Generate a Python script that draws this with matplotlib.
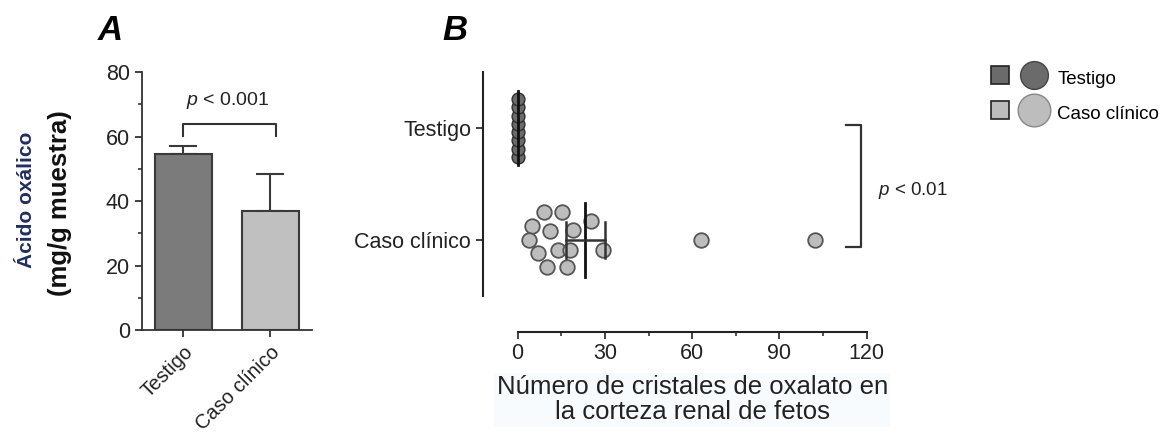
import matplotlib
matplotlib.use('Agg')
import matplotlib.pyplot as plt
from matplotlib.lines import Line2D
from matplotlib.legend_handler import HandlerTuple
from matplotlib.ticker import MultipleLocator

plt.rcParams['font.family'] = ['Liberation Sans', 'DejaVu Sans']
plt.rcParams['mathtext.fontset'] = 'custom'
plt.rcParams['mathtext.it'] = 'Liberation Sans:italic'
plt.rcParams['mathtext.rm'] = 'Liberation Sans'

# Panel A data
groups = ['Testigo', 'Caso clínico']
acid_mean = [54.5, 37.0]
acid_err = [2.5, 11.4]

# Panel B data (crystal counts)
testigo_counts = [0, 0, 0, 0, 0, 0, 0, 0]
testigo_jitter = [-0.26, -0.185, -0.11, -0.037, 0.037, 0.11, 0.185, 0.26]
caso_counts = [9.1, 15.1, 5.0, 11.1, 19.1, 25.2, 3.9, 14.0, 18.0, 29.2, 7.1, 10.2, 17.0, 63.2, 102.2]
caso_jitter = [0.247, 0.247, 0.122, 0.083, 0.09, 0.173, 0.0, -0.087, -0.087, -0.087, -0.12, -0.245, -0.245, 0.0, 0.0]
testigo_mean, testigo_sem = 0.0, 0.0
caso_mean, caso_sem = 23.3, 6.6

dark = '#7b7b7b'
light = '#c0c0c0'
edge = '#3a3a3a'
tick_fs = 15.5

fig = plt.figure(figsize=(11.72, 4.32), dpi=100)

# ---------- panel A ----------
axA = fig.add_axes([0.1209, 0.2361, 0.1453, 0.5972])
xpos = [0, 1]
axA.bar(xpos, acid_mean, width=0.654, color=[dark, light], edgecolor=edge, linewidth=1.5, zorder=2)
axA.errorbar(xpos, acid_mean, yerr=[[0, 0], acid_err], fmt='none', ecolor=edge,
             elinewidth=1.5, capsize=10, capthick=1.5, zorder=1)
axA.set_xlim(-0.48, 1.48)
axA.set_ylim(0, 80)
axA.set_yticks([0, 20, 40, 60, 80])
axA.yaxis.set_minor_locator(MultipleLocator(10))
axA.set_xticks(xpos)
axA.set_xticklabels(groups, rotation=45, ha='right', rotation_mode='anchor')
for s in ['top', 'right']:
    axA.spines[s].set_visible(False)
for s in ['left', 'bottom']:
    axA.spines[s].set_linewidth(1.3)
    axA.spines[s].set_color('#333333')
axA.tick_params(axis='both', labelsize=tick_fs, width=1.3, length=5, color='#333333', labelcolor='#222222')
axA.tick_params(axis='y', which='minor', length=3, width=1.2, color='#333333')
axA.tick_params(axis='x', labelsize=14.5, pad=4)

# bracket A
axA.plot([0, 0, 1.07, 1.07], [60.2, 63.9, 63.9, 60.2], color='#333333', lw=1.5, clip_on=False)
axA.text(0.515, 71.3, '$p$ < 0.001', ha='center', va='center', fontsize=14, color='#222222')

fig.text(27 / 1172, 1 - 200 / 432, 'Ácido oxálico', rotation=90, ha='center', va='center',
         fontsize=15, fontweight='bold', color='#1f2d66')
fig.text(60 / 1172, 1 - 203 / 432, '(mg/g muestra)', rotation=90, ha='center', va='center',
         fontsize=18.5, fontweight='bold', color='#111111')
fig.text(110 / 1172, 1 - 30 / 432, 'A', ha='center', va='center', fontsize=25,
         fontweight='bold', fontstyle='italic')

# ---------- panel B ----------
axB = fig.add_axes([0.4417, 0.3148, 0.2978, 0.5185])
axB.scatter(testigo_counts, [1 + j for j in testigo_jitter], s=85, color='#6b6b6b',
            edgecolor='#2e2e2e', linewidth=1.0, zorder=3, clip_on=False)
axB.scatter(caso_counts, [0 + j for j in caso_jitter], s=110, color='#bdbdbd',
            edgecolor='#555555', linewidth=1.3, zorder=3, clip_on=False)
# mean + SEM
for yc, m, e in [(1, testigo_mean, testigo_sem), (0, caso_mean, caso_sem)]:
    axB.plot([m, m], [yc - 0.33, yc + 0.33], color='#111111', lw=2, zorder=4, clip_on=False)
    if e > 0:
        axB.plot([m - e, m + e], [yc, yc], color='#333333', lw=1.8, zorder=4)
        for xe in (m - e, m + e):
            axB.plot([xe, xe], [yc - 0.16, yc + 0.16], color='#333333', lw=1.8, zorder=4)

axB.set_xlim(0, 120)
axB.set_ylim(-0.5, 1.5)
axB.set_xticks([0, 30, 60, 90, 120])
axB.xaxis.set_minor_locator(MultipleLocator(15))
axB.set_yticks([1, 0])
axB.set_yticklabels(['Testigo', 'Caso clínico'])
for s in ['top', 'right']:
    axB.spines[s].set_visible(False)
axB.spines['left'].set_position(('outward', 25))
axB.spines['bottom'].set_position(('outward', 26))
for s in ['left', 'bottom']:
    axB.spines[s].set_linewidth(1.5)
    axB.spines[s].set_color('#222222')
axB.tick_params(axis='both', labelsize=tick_fs, width=1.3, length=5, color='#333333', labelcolor='#222222')
axB.tick_params(axis='x', which='minor', length=3, width=1.2, color='#333333')
axB.tick_params(axis='x', pad=3)
axB.set_xlabel('Número de cristales de oxalato en\nla corteza renal de fetos', fontsize=18.5,
               color='#222222', labelpad=8, linespacing=1.05,
               bbox=dict(boxstyle='square,pad=0.1', facecolor='#f8fbfd', edgecolor='none'))

# bracket B
axB.plot([113, 117.9, 117.9, 113], [1.03, 1.03, -0.06, -0.06], color='#333333', lw=1.6, clip_on=False)
axB.text(124, 0.44, '$p$ < 0.01', ha='left', va='center', fontsize=13.5, color='#222222', clip_on=False)

fig.text(455 / 1172, 1 - 30 / 432, 'B', ha='center', va='center', fontsize=25,
         fontweight='bold', fontstyle='italic')

# legend
h_t = (Line2D([], [], ls='none', marker='s', ms=13, mfc='#6b6b6b', mec='#222222', mew=1.2),
       Line2D([], [], ls='none', marker='o', ms=20, mfc='#6b6b6b', mec='#444444', mew=1.0))
h_c = (Line2D([], [], ls='none', marker='s', ms=13, mfc='#bdbdbd', mec='#222222', mew=1.2),
       Line2D([], [], ls='none', marker='o', ms=23.5, mfc='#bdbdbd', mec='#888888', mew=1.0))
fig.legend([h_t, h_c], ['Testigo', 'Caso clínico'], loc='upper left',
           bbox_to_anchor=(984 / 1172, 1 - 62 / 432), frameon=False, fontsize=13.5,
           handler_map={tuple: HandlerTuple(ndivide=None, pad=0.55)},
           handlelength=3.1, handleheight=1.55, handletextpad=0.6, labelspacing=0.62,
           borderpad=0.2, borderaxespad=0)

fig.savefig('out.png', dpi=100)
